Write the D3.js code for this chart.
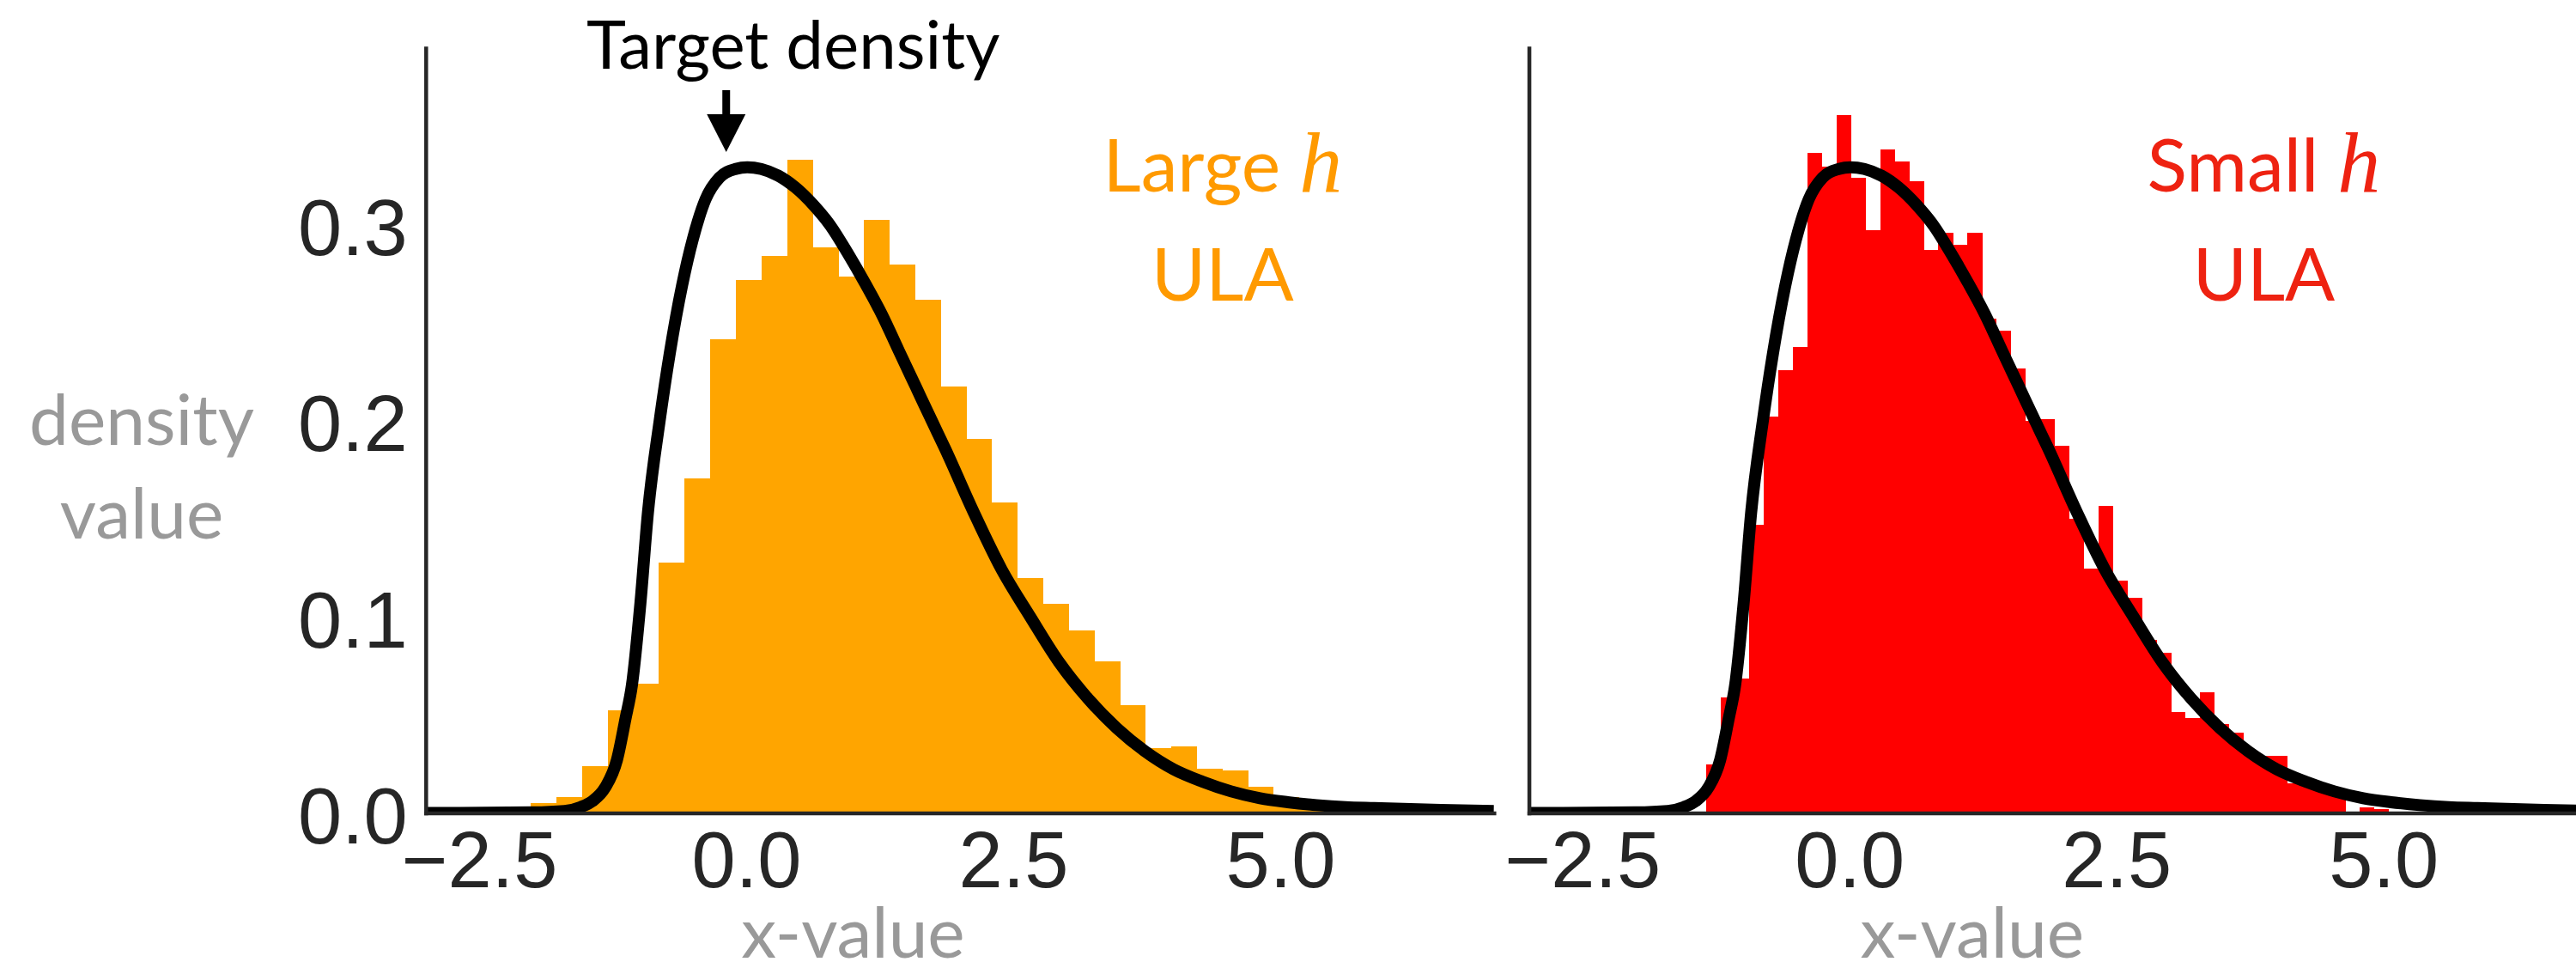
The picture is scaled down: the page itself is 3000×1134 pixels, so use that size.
<!DOCTYPE html>
<html>
<head>
<meta charset="utf-8">
<script src="https://cdn.jsdelivr.net/npm/d3@7"></script>
<style>
  html, body { margin: 0; padding: 0; background: #ffffff; }
  svg { display: block; }
</style>
</head>
<body>
<svg id="chart" width="3000" height="1134"></svg>
<script>
// ---- data -------------------------------------------------------------
// Histogram of ULA samples, large step size (bin start, bin width, densities)
const largeBinStart = -2.015;
const largeBinWidth = 0.2397;
const largeDensity = [
  0.0049, 0.0082, 0.0240, 0.0525, 0.0659, 0.1278, 0.1705, 0.2414, 0.2718, 0.2841,
  0.3330, 0.2885, 0.2735, 0.3025, 0.2795, 0.2616, 0.2176, 0.1907, 0.1584, 0.1197,
  0.1067, 0.0930, 0.0773, 0.0550, 0.0332, 0.0339, 0.0226, 0.0216, 0.0135, 0.0079,
  0.0055, 0.0040, 0.0020, 0.0010
];

// Histogram of ULA samples, small step size
const smallBinStart = -1.343;
const smallBinWidth = 0.136;
const smallDensity = [
  0.0246, 0.0587, 0.0687, 0.1468, 0.2020, 0.2257, 0.2375, 0.3365, 0.3296, 0.3560,
  0.3238, 0.2971, 0.3384, 0.3323, 0.3222, 0.2873, 0.2959, 0.2897, 0.2959, 0.2519,
  0.2461, 0.2268, 0.2000, 0.2010, 0.1872, 0.1498, 0.1244, 0.1566, 0.1185, 0.1097,
  0.0884, 0.0815, 0.0513, 0.0485, 0.0615, 0.0455, 0.0409, 0.0300, 0.0290, 0.0290,
  0.0149, 0.0142, 0.0130, 0.0120, 0.0000, 0.0030, 0.0020
];

// Target density curve (x, density)
const targetX = [
  -3.0, -2.0, -1.7, -1.55, -1.44, -1.32, -1.21, -1.13, -1.07, -0.99,
  -0.92, -0.81, -0.715, -0.60, -0.50, -0.38, -0.25, -0.10, 0.01, 0.14,
  0.30, 0.46, 0.63, 0.79, 0.95, 1.11, 1.27, 1.43, 1.59, 1.75,
  1.86, 2.13, 2.39, 2.66, 2.93, 3.20, 3.47, 3.73, 4.00, 4.27,
  4.54, 4.81, 5.07, 5.34, 5.61, 5.88, 6.5, 7.0
];
const targetY = [
  0.0000, 0.0003, 0.0010, 0.0030, 0.0060, 0.0130, 0.0270, 0.0480, 0.0650, 0.1070,
  0.1530, 0.2000, 0.2345, 0.2690, 0.2925, 0.3130, 0.3240, 0.3284, 0.3293, 0.3284,
  0.3250, 0.3190, 0.3100, 0.2994, 0.2855, 0.2704, 0.2542, 0.2356, 0.2171, 0.1986,
  0.1860, 0.1533, 0.1243, 0.1000, 0.0768, 0.0583, 0.0432, 0.0316, 0.0223, 0.0160,
  0.0110, 0.0075, 0.0055, 0.0040, 0.0030, 0.0025, 0.0015, 0.0010
];

const xTicks = [-2.5, 0, 2.5, 5];
const yTicks = [0, 0.1, 0.2, 0.3];
const xDomain = [-3, 7];
const yDomain = [0, 0.39];

const panelNames = ["Large", "Small"];
const methodName = "ULA";
const xLabel = "x-value";
const yLabelLines = ["density", "value"];
const arrowText = "Target density";

// ---- layout -----------------------------------------------------------
const svg = d3.select("#chart");
const plotTop = 56.1, plotBottom = 946.5;
const y = d3.scaleLinear().domain(yDomain).range([plotBottom, plotTop]);

const tickFont = "'Liberation Sans', Arial, sans-serif";
const labelFont = "Lato, 'Open Sans', sans-serif";
const axisColor = "#262626";
const labelGray = "#999999";

const panels = [
  { left: 495.8, right: 1739.8, start: largeBinStart, width: largeBinWidth,
    values: largeDensity, fill: "#FFA500", textFill: "#FF9A00",
    textX: 4.46, xLabelAt: 1.0, yTickLabels: true },
  { left: 1780.6, right: 3024.6, start: smallBinStart, width: smallBinWidth,
    values: smallDensity, fill: "#FF0000", textFill: "#EE2211",
    textX: 3.88, xLabelAt: 1.15, yTickLabels: false }
];

const curve = targetX.map((xv, i) => [xv, targetY[i]]);

panels.forEach((p, pi) => {
  const x = d3.scaleLinear().domain(xDomain).range([p.left, p.right]);
  const g = svg.append("g");

  const clipId = "clip" + pi;
  svg.append("clipPath").attr("id", clipId)
    .append("rect")
    .attr("x", p.left).attr("y", plotTop)
    .attr("width", p.right - p.left).attr("height", plotBottom - plotTop);

  // histogram bars
  const bins = p.values.map((v, i) => ({
    x0: p.start + i * p.width,
    x1: p.start + (i + 1) * p.width,
    v: v
  }));
  g.append("g")
    .attr("clip-path", `url(#${clipId})`)
    .selectAll("rect")
    .data(bins.filter(b => b.v > 0))
    .join("rect")
    .attr("x", b => x(b.x0))
    .attr("width", b => x(b.x1) - x(b.x0) + 0.4)
    .attr("y", b => y(b.v))
    .attr("height", b => y(0) - y(b.v))
    .attr("fill", p.fill)
    .attr("shape-rendering", "crispEdges");

  // target density
  const line = d3.line()
    .x(d => x(d[0]))
    .y(d => y(d[1]))
    .curve(d3.curveMonotoneX);
  g.append("path")
    .attr("clip-path", `url(#${clipId})`)
    .datum(curve)
    .attr("d", line)
    .attr("fill", "none")
    .attr("stroke", "#000000")
    .attr("stroke-width", 14)
    .attr("stroke-linejoin", "round");

  // axes (no tick marks, only spines and labels)
  const xAxis = d3.axisBottom(x)
    .tickValues(xTicks)
    .tickSize(0)
    .tickSizeOuter(0)
    .tickFormat(d3.format(".1f"));
  const gx = g.append("g")
    .attr("transform", `translate(0,${plotBottom})`)
    .call(xAxis);
  gx.select(".domain")
    .attr("stroke", axisColor).attr("stroke-width", 4.5)
    .attr("stroke-linecap", "square");
  gx.selectAll(".tick text")
    .attr("y", 86.5).attr("dy", 0)
    .attr("font-family", tickFont)
    .attr("font-size", 92)
    .attr("fill", axisColor);

  const yAxis = d3.axisLeft(y)
    .tickValues(yTicks)
    .tickSize(0)
    .tickSizeOuter(0)
    .tickFormat(d3.format(".1f"));
  const gy = g.append("g")
    .attr("transform", `translate(${p.left},0)`)
    .call(yAxis);
  gy.select(".domain")
    .attr("stroke", axisColor).attr("stroke-width", 4.5)
    .attr("stroke-linecap", "square");
  if (p.yTickLabels) {
    gy.selectAll(".tick text")
      .attr("x", -21).attr("dy", 0).attr("y", 35)
      .attr("font-family", tickFont)
      .attr("font-size", 92)
      .attr("fill", axisColor);
  } else {
    gy.selectAll(".tick text").remove();
  }

  // x label
  g.append("text")
    .attr("x", x(p.xLabelAt))
    .attr("y", 1115)
    .attr("text-anchor", "middle")
    .attr("font-family", labelFont)
    .attr("font-size", 82)
    .attr("fill", labelGray)
    .text(xLabel);

  // method annotation
  const t1 = g.append("text")
    .attr("x", x(p.textX))
    .attr("y", 223)
    .attr("text-anchor", "middle")
    .attr("fill", p.textFill);
  t1.append("tspan")
    .attr("font-family", labelFont)
    .attr("font-size", 86)
    .text(panelNames[pi] + " ");
  t1.append("tspan")
    .attr("font-family", "'Liberation Serif', 'DejaVu Serif', serif")
    .attr("font-style", "italic")
    .attr("font-size", 100)
    .text("h");
  g.append("text")
    .attr("x", x(p.textX))
    .attr("y", 350)
    .attr("text-anchor", "middle")
    .attr("font-family", labelFont)
    .attr("font-size", 86)
    .attr("fill", p.textFill)
    .text(methodName);

  // arrow pointing at the mode of the target density (left panel)
  if (pi === 0) {
    const ax = x(-0.187);
    const tipY = y(0.337);
    g.append("line")
      .attr("x1", ax).attr("x2", ax)
      .attr("y1", 105).attr("y2", tipY - 40)
      .attr("stroke", "#000").attr("stroke-width", 9);
    g.append("path")
      .attr("d", `M${ax - 22.5},${tipY - 44}L${ax + 22.5},${tipY - 44}L${ax},${tipY}Z`)
      .attr("fill", "#000");
    g.append("text")
      .attr("x", x(0.44))
      .attr("y", 80)
      .attr("text-anchor", "middle")
      .attr("font-family", labelFont)
      .attr("font-size", 78)
      .attr("fill", "#000")
      .text(arrowText);
  }
});

// y label (shared)
const yl = svg.append("text")
  .attr("text-anchor", "middle")
  .attr("font-family", labelFont)
  .attr("font-size", 82)
  .attr("fill", labelGray);
yLabelLines.forEach((s, i) => {
  yl.append("tspan").attr("x", 165).attr("y", 518 + i * 109).text(s);
});
</script>
</body>
</html>
